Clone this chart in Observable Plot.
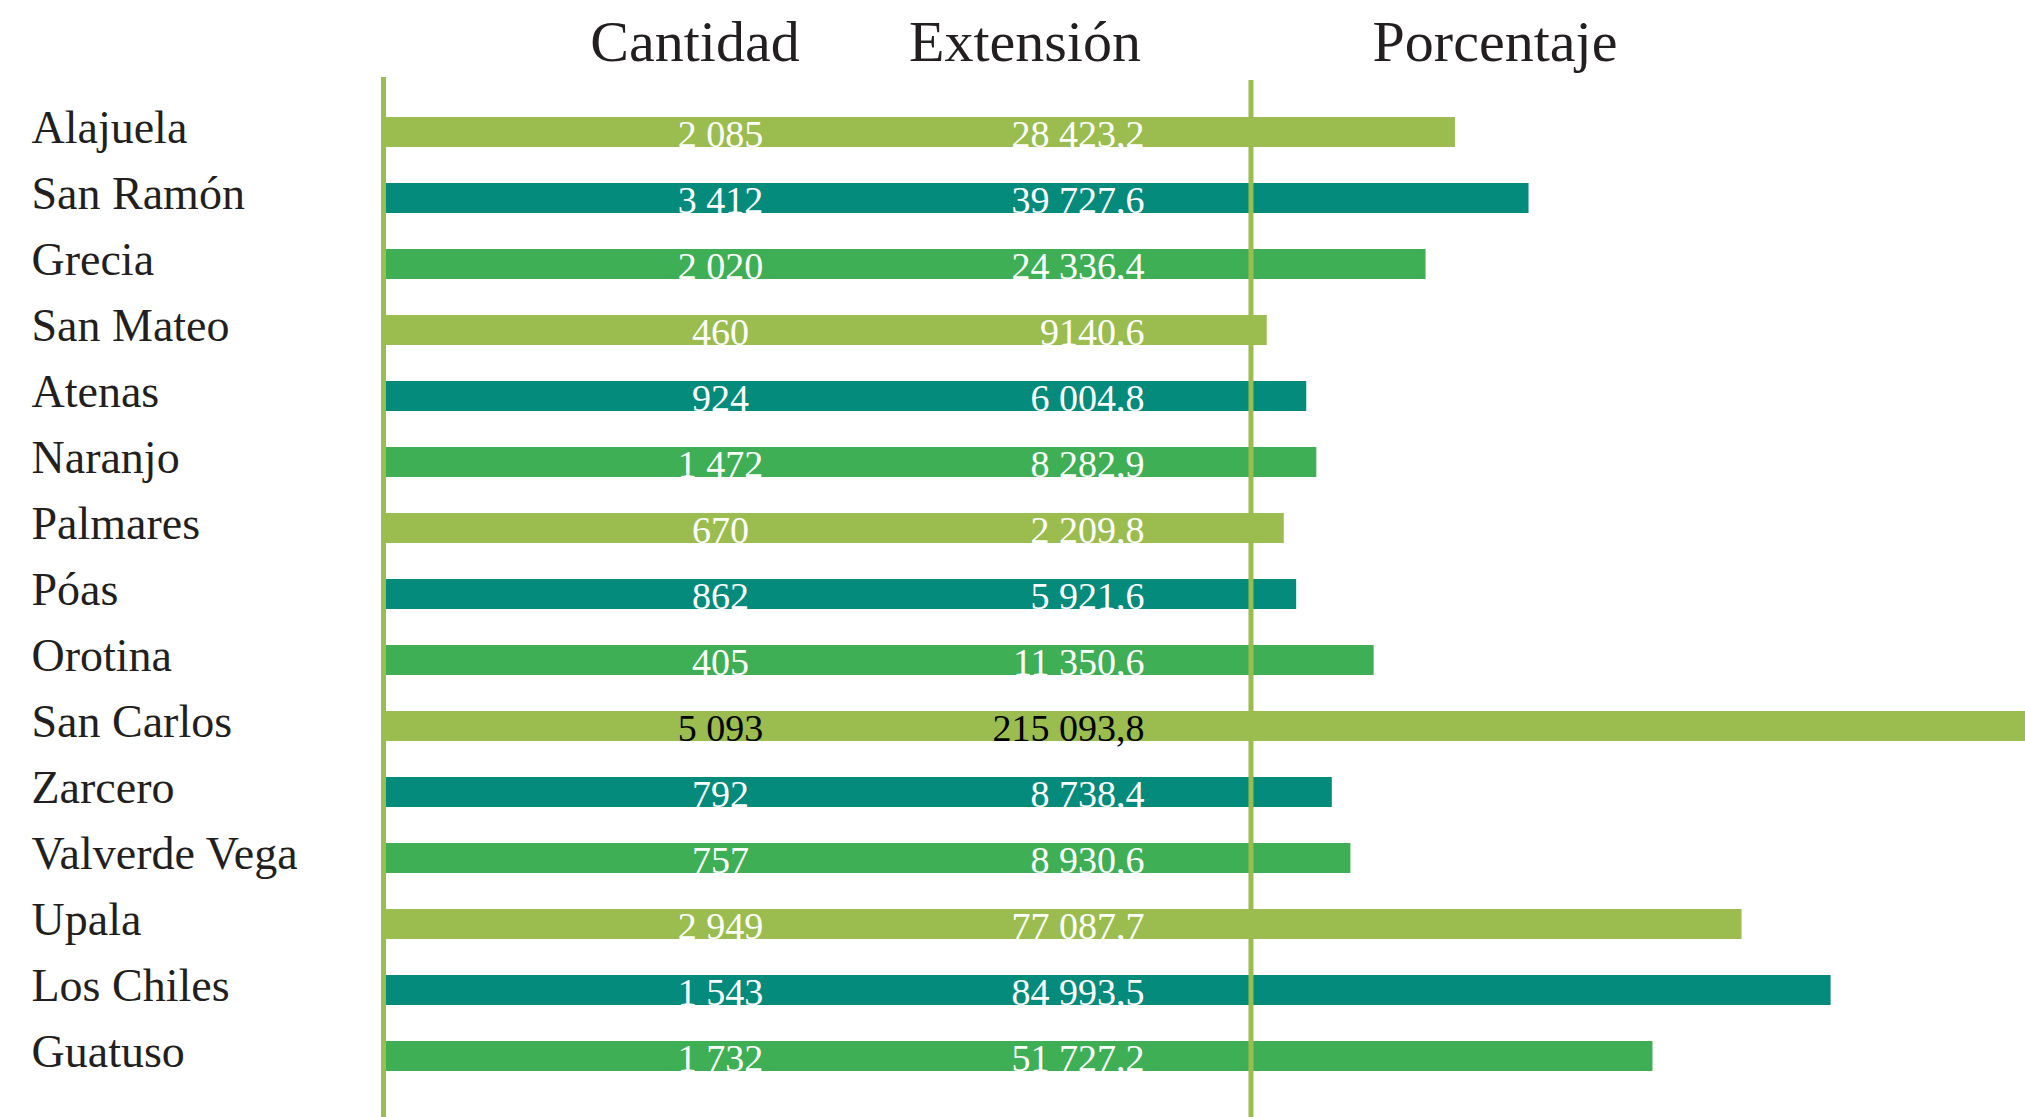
<!DOCTYPE html>
<html>
<head>
<meta charset="utf-8">
<script src="https://cdn.jsdelivr.net/npm/d3@7"></script>
<script src="https://cdn.jsdelivr.net/npm/@observablehq/plot@0.6"></script>
<style>
  html, body { margin: 0; padding: 0; background: #fff; }
  body { width: 2025px; height: 1117px; overflow: hidden; font-family: "Liberation Serif", "Times New Roman", serif; color: #231f20; }
  #head { position: relative; height: 77px; width: 2025px; }
  #head span { position: absolute; top: 13px; font-size: 58px; line-height: 58px; transform: translateX(-50%); white-space: nowrap; }
  #chart svg { display: block; }
</style>
</head>
<body>
<div id="head">
  <span style="left:695px">Cantidad</span>
  <span style="left:1025px">Extensión</span>
  <span style="left:1495px">Porcentaje</span>
</div>
<div id="chart"></div>
<script>
const cantones = ["Alajuela","San Ramón","Grecia","San Mateo","Atenas","Naranjo","Palmares","Póas","Orotina","San Carlos","Zarcero","Valverde Vega","Upala","Los Chiles","Guatuso"];
const cantidad = ["2 085","3 412","2 020","460","924","1 472","670","862","405","5 093","792","757","2 949","1 543","1 732"];
const extension = ["28 423,2","39 727,6","24 336,4","9140,6","6 004,8","8 282,9","2 209,8","5 921,6","11 350,6","215 093,8","8 738,4","8 930,6","77 087,7","84 993,5","51 727,2"];
// bar length beyond the right rule (estimated, % of the right section)
const porcentaje = [26.4, 35.9, 22.6, 2.1, 7.2, 8.5, 4.3, 5.9, 15.9, 100, 10.5, 12.9, 63.4, 74.9, 51.9];
const colores = ["#9bbd4f", "#048b7b", "#3eaf54"];
const xDomain = [-112, 100];

const data = cantones.map((c, i) => ({
  canton: c,
  cantidad: cantidad[i],
  extension: extension[i],
  porcentaje: porcentaje[i],
  color: colores[i % 3],
  ink: c === "San Carlos" ? "#000000" : "#ffffff"
}));

const font = "Liberation Serif, Times New Roman, serif";
const olive = "#9bbd4f";

const chart = Plot.plot({
  width: 2025,
  height: 1040,
  marginLeft: 383,
  marginRight: 0,
  marginTop: 0,
  marginBottom: 0,
  style: { fontFamily: font, background: "#fff" },
  x: { domain: xDomain, axis: null },
  y: { domain: cantones, paddingInner: 0.547, paddingOuter: 0.6275, align: 0.469, axis: null },
  marks: [
    Plot.barX(data, { y: "canton", x1: () => xDomain[0], x2: "porcentaje", fill: "color" }),
    Plot.text(data, { y: "canton", text: "canton", frameAnchor: "left", dx: -352, dy: -4, textAnchor: "start", fontSize: 46, fill: "#231f20" }),
    Plot.text(data, { y: "canton", text: "cantidad", frameAnchor: "left", dx: 337, dy: 2, textAnchor: "middle", fontSize: 38, fill: "ink" }),
    Plot.text(data, { y: "canton", text: "extension", frameAnchor: "left", dx: 761, dy: 2, textAnchor: "end", fontSize: 38, fill: "ink" }),
    Plot.frame({ anchor: "left", stroke: olive, strokeWidth: 5 }),
    Plot.ruleX([0], { stroke: olive, strokeWidth: 5, insetTop: 3 })
  ]
});
document.getElementById("chart").appendChild(chart);
</script>
</body>
</html>
